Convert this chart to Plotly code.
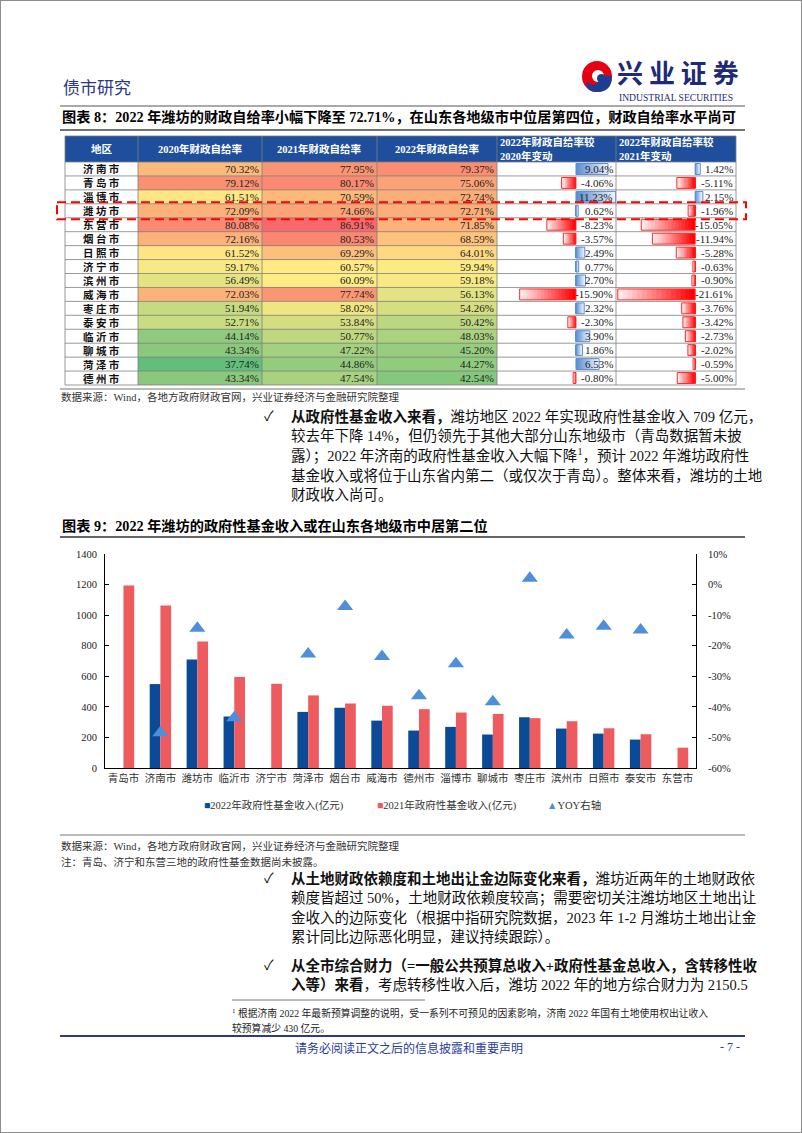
import numpy as np
import plotly.graph_objects as go

W, H = 802, 1133

# ---------------- 图表8 table data ----------------
table_cities = ["济南市", "青岛市", "淄博市", "潍坊市", "东营市", "烟台市", "日照市", "济宁市",
                "滨州市", "威海市", "枣庄市", "泰安市", "临沂市", "聊城市", "菏泽市", "德州市"]
r2020 = [70.32, 79.12, 61.51, 72.09, 80.08, 72.16, 61.52, 59.17, 56.49, 72.03, 51.94, 52.71, 44.14, 43.34, 37.74, 43.34]
r2021 = [77.95, 80.17, 70.59, 74.66, 86.91, 80.53, 69.29, 60.57, 60.09, 77.74, 58.02, 53.84, 50.77, 47.22, 44.86, 47.54]
r2022 = [79.37, 75.06, 72.74, 72.71, 71.85, 68.59, 64.01, 59.94, 59.18, 56.13, 54.26, 50.42, 48.03, 45.20, 44.27, 42.54]
chg_vs2020 = [9.04, -4.06, 11.23, 0.62, -8.23, -3.57, 2.49, 0.77, 2.70, -15.90, 2.32, -2.30, 3.90, 1.86, 6.53, -0.80]
chg_vs2021 = [1.42, -5.11, 2.15, -1.96, -15.05, -11.94, -5.28, -0.63, -0.90, -21.61, -3.76, -3.42, -2.73, -2.02, -0.59, -5.00]
table_headers = ["地区", "2020年财政自给率", "2021年财政自给率", "2022年财政自给率",
                 "2022年财政自给率较<br>2020年变动", "2022年财政自给率较<br>2021年变动"]

# ---------------- 图表9 chart data ----------------
chart_cities = ["青岛市", "济南市", "潍坊市", "临沂市", "济宁市", "菏泽市", "烟台市", "威海市",
                "德州市", "淄博市", "聊城市", "枣庄市", "滨州市", "日照市", "泰安市", "东营市"]
fund_2022 = [None, 549, 709, 337, None, 367, 394, 310, 245, 269, 219, 332, 258, 225, 186, None]
fund_2021 = [1194, 1063, 827, 595, 551, 475, 422, 407, 385, 363, 354, 326, 306, 260, 221, 133]
yoy_pct = [None, -48.5, -14.3, -43.6, None, -22.7, -7.2, -23.5, -36.4, -25.9, -38.3, 2.1, -16.5, -13.6, -14.9, None]
left_ticks = [0, 200, 400, 600, 800, 1000, 1200, 1400]
right_tickvals = [0.1, 0.0, -0.1, -0.2, -0.3, -0.4, -0.5, -0.6]
right_ticktext = ["10%", "0%", "-10%", "-20%", "-30%", "-40%", "-50%", "-60%"]

# ---------------- styles / layout constants ----------------
SERIF = "Liberation Serif, Noto Sans CJK SC"
CJK = "Noto Sans CJK SC"
NAVY = "#2B3788"
TB_X = [65, 138, 262, 377, 497, 616, 736]
TB_TOP, HDR_B, TB_BOT = 136, 162, 385
RH = (TB_BOT - HDR_B) / len(table_cities)
row_c = [HDR_B + (i + 0.5) * RH for i in range(len(table_cities))]

fig = go.Figure()

# heat-map coloured cells (Excel 3-colour scale, shared across 3 columns)
z = np.array([r2020, r2021, r2022]).T
zmin, zmax, zmed = float(z.min()), float(z.max()), float(np.median(z))
mid = (zmed - zmin) / (zmax - zmin)
fig.add_trace(go.Heatmap(
    z=z, x=TB_X[1:5], y=[HDR_B + i * RH for i in range(len(table_cities) + 1)],
    colorscale=[[0, "#63BE7B"], [mid, "#FFEB84"], [1, "#F8696B"]],
    zmin=zmin, zmax=zmax, showscale=False, hoverinfo="skip", xaxis="x", yaxis="y"))


def mix(a, b, t):
    return "rgb(%d,%d,%d)" % tuple(round(a[i] + (b[i] - a[i]) * t) for i in range(3))


POS_A, POS_B = (90, 142, 210), (236, 242, 251)
NEG_A, NEG_B = (255, 0, 0), (255, 236, 236)
NSEG = 16
for xa, vals in (("x2", chg_vs2020), ("x3", chg_vs2021)):
    for k in range(NSEG):
        t = k / (NSEG - 1)
        ext = 1.0 if k == NSEG - 1 else 1.6   # overlap segments to avoid hairline gaps
        cols = [mix(POS_A, POS_B, t) if v >= 0 else mix(NEG_A, NEG_B, t) for v in vals]
        fig.add_trace(go.Bar(orientation="h", y=row_c, x=[v * ext / NSEG for v in vals],
                             base=[v * k / NSEG for v in vals], width=RH - 3,
                             marker=dict(color=cols, line=dict(width=0)),
                             xaxis=xa, yaxis="y", hoverinfo="skip", showlegend=False))
    fig.add_trace(go.Bar(orientation="h", y=row_c, x=vals, base=[0] * len(vals), width=RH - 3,
                         marker=dict(color="rgba(0,0,0,0)",
                                     line=dict(width=1, color=["#5A8ED2" if v >= 0 else "#FF2A2A" for v in vals])),
                         xaxis=xa, yaxis="y", hoverinfo="skip", showlegend=False))

# ---------------- chart 9 traces ----------------
fig.add_trace(go.Bar(x=chart_cities, y=fund_2022, offset=-0.29, width=0.29, marker_color="#0B4A97",
                     name="2022年政府性基金收入(亿元)", xaxis="x4", yaxis="y4", showlegend=False))
fig.add_trace(go.Bar(x=chart_cities, y=fund_2021, offset=0.0, width=0.29, marker_color="#EE5B5E",
                     name="2021年政府性基金收入(亿元)", xaxis="x4", yaxis="y4", showlegend=False))
fig.add_trace(go.Scatter(x=chart_cities, y=[None if v is None else v / 100 for v in yoy_pct],
                         mode="markers", marker=dict(symbol="triangle-up", size=14, color="#4E8FDA"),
                         name="YOY右轴", xaxis="x4", yaxis="y5", showlegend=False))

# ---------------- text ----------------
ann = []


def T(x, y, text, size=14.5, color="#111", xanchor="left", family=SERIF, align="left"):
    ann.append(dict(x=x, y=y, xref="x", yref="y", text=text, showarrow=False, xanchor=xanchor,
                    yanchor="middle", align=align, borderpad=0,
                    font=dict(size=size, color=color, family=family)))


# header
T(62, 86, "债市研究", 17, NAVY, family=CJK)
T(616, 71, "<b>兴 业 证 券</b>", 26, "#1E2A78", family=CJK)
T(618, 97, "INDUSTRIAL SECURITIES", 9.6, "#1E2A78")
T(61, 117, "<b>图表 8：2022 年潍坊的财政自给率小幅下降至 72.71%，在山东各地级市中位居第四位，财政自给率水平尚可</b>", 14.2, "#000")

# table header
for c in range(4):
    T((TB_X[c] + TB_X[c + 1]) / 2, (TB_TOP + HDR_B) / 2, "<b>%s</b>" % table_headers[c], 10.5, "#FFFFFF", "center")
for c in (4, 5):
    T(TB_X[c] + 2, (TB_TOP + HDR_B) / 2, "<b>%s</b>" % table_headers[c], 10.5, "#FFFFFF", "left")
# table body
for i, name in enumerate(table_cities):
    T((TB_X[0] + TB_X[1]) / 2, row_c[i], "<b>%s</b>" % " ".join(name), 10.5, "#111", "center", family=CJK)
    for c, arr in enumerate((r2020, r2021, r2022, chg_vs2020, chg_vs2021)):
        T(TB_X[c + 2] - 2, row_c[i], "%.2f%%" % arr[i], 11, "#222", "right")

T(60, 397, "数据来源：Wind，各地方政府财政官网，兴业证券经济与金融研究院整理", 10.5, "#333")

BX, CK = 290, 263
LS = 19.8
para1 = ["<b>从政府性基金收入来看，</b>潍坊地区 2022 年实现政府性基金收入 709 亿元，",
         "较去年下降 14%，但仍领先于其他大部分山东地级市（青岛数据暂未披",
         "露）；2022 年济南的政府性基金收入大幅下降<sup>1</sup>，预计 2022 年潍坊政府性",
         "基金收入或将位于山东省内第二（或仅次于青岛）。整体来看，潍坊的土地",
         "财政收入尚可。"]
y0 = 416
T(CK, y0, "✓", 14, "#111")
for j, s in enumerate(para1):
    T(BX, y0 + j * LS, s, 14.5, "#111")

T(61, 526, "<b>图表 9：2022 年潍坊的政府性基金收入或在山东各地级市中居第二位</b>", 14.2, "#000")

# legend (custom)
T(203, 805, "<span style='color:#0B4A97'>■</span>2022年政府性基金收入(亿元)", 10.5, "#333")
T(376, 805, "<span style='color:#EE5B5E'>■</span>2021年政府性基金收入(亿元)", 10.5, "#333")
T(546, 805, "<span style='color:#4E8FDA'>▲</span>YOY右轴", 10.5, "#333")

T(60, 846, "数据来源：Wind，各地方政府财政官网，兴业证券经济与金融研究院整理", 10.5, "#333")
T(60, 862, "注：青岛、济宁和东营三地的政府性基金数据尚未披露。", 10.5, "#333")

para2 = ["<b>从土地财政依赖度和土地出让金边际变化来看，</b>潍坊近两年的土地财政依",
         "赖度皆超过 50%，土地财政依赖度较高；需要密切关注潍坊地区土地出让",
         "金收入的边际变化（根据中指研究院数据，2023 年 1-2 月潍坊土地出让金",
         "累计同比边际恶化明显，建议持续跟踪）。"]
y1 = 878
T(CK, y1, "✓", 14, "#111")
for j, s in enumerate(para2):
    T(BX, y1 + j * LS, s, 14.5, "#111")
para3 = ["<b>从全市综合财力（=一般公共预算总收入+政府性基金总收入，含转移性收</b>",
         "<b>入等）来看</b>，考虑转移性收入后，潍坊 2022 年的地方综合财力为 2150.5"]
y2 = 965
T(CK, y2, "✓", 14, "#111")
for j, s in enumerate(para3):
    T(BX, y2 + j * LS, s, 14.5, "#111")

T(231, 1013, "<sup>1</sup> 根据济南 2022 年最新预算调整的说明，受一系列不可预见的因素影响，济南 2022 年国有土地使用权出让收入", 9.8, "#222")
T(231, 1028, "较预算减少 430 亿元。", 9.8, "#222")
T(409, 1047, "请务必阅读正文之后的信息披露和重要声明", 12, "#2A3D9A", "center", family=CJK)
T(741, 1047, "- 7 -", 12, "#2A3D9A", "right")

# ---------------- shapes ----------------
shp = []


def L(x0, y0_, x1, y1_, color="#666", width=1, dash="solid", layer="above"):
    shp.append(dict(type="line", xref="x", yref="y", x0=x0, y0=y0_, x1=x1, y1=y1_, layer=layer,
                    line=dict(color=color, width=width, dash=dash)))


# page frame
shp.append(dict(type="rect", xref="paper", yref="paper", x0=0, y0=0, x1=1, y1=1,
                line=dict(color="#8C8C8C", width=2), layer="above"))
# logo
shp.append(dict(type="circle", xref="x", yref="y", x0=582, y0=61, x1=612, y1=92,
                fillcolor="#E60012", line=dict(width=0), layer="above"))
shp.append(dict(type="path", xref="x", yref="y",
                path="M 597 76 L 612 76 Q 612 92 597 92 Q 586 92 586 82 Q 592 86 597 84 Z",
                fillcolor="#1F3C93", line=dict(width=0), layer="above"))
shp.append(dict(type="circle", xref="x", yref="y", x0=592, y0=70, x1=604, y1=82,
                fillcolor="#FFFFFF", line=dict(width=0), layer="above"))
shp.append(dict(type="circle", xref="x", yref="y", x0=597, y0=74, x1=606, y1=83,
                fillcolor="#1F3C93", line=dict(width=0), layer="above"))

L(60, 106, 745, 106, "#555", 1)
L(60, 130, 745, 130, "#444", 1.5)
# table header background
shp.append(dict(type="rect", xref="x", yref="y", x0=TB_X[0], y0=TB_TOP, x1=TB_X[-1], y1=HDR_B,
                fillcolor="#1F4E9C", line=dict(width=0), layer="below"))
for i in range(len(table_cities) + 1):
    yy = HDR_B + i * RH
    L(TB_X[0], yy, TB_X[-1], yy, "#7F7F7F", 0.8)
L(TB_X[0], TB_TOP, TB_X[-1], TB_TOP, "#7F7F7F", 0.8)
for xx in TB_X:
    L(xx, TB_TOP, xx, TB_BOT, "#7F7F7F", 0.8)
# highlight for 潍坊
wf = table_cities.index("潍坊市")
shp.append(dict(type="rect", xref="x", yref="y", x0=57, x1=746,
                y0=HDR_B + wf * RH - 1.5, y1=HDR_B + (wf + 1) * RH + 1.5,
                line=dict(color="#FF0000", width=2, dash="9px,5px"), layer="above"))
L(60, 389, 745, 389, "#777", 1)
L(60, 537, 745, 537, "#666", 2.2)
L(60, 835, 745, 835, "#777", 1)
L(232, 1000, 425, 1000, "#555", 0.8)
L(60, 1036, 745, 1036, "#2E3A87", 2)

# ---------------- layout ----------------
ytop, ybot = 554, 768
tick_font = dict(family="Liberation Serif", size=10.5, color="#222")
fig.update_layout(
    width=W, height=H, margin=dict(l=0, r=0, t=0, b=0), template="none",
    paper_bgcolor="white", plot_bgcolor="rgba(0,0,0,0)", barmode="overlay", showlegend=False,
    xaxis=dict(domain=[0, 1], range=[0, W], visible=False, fixedrange=True),
    yaxis=dict(domain=[0, 1], range=[H, 0], visible=False, fixedrange=True),
    xaxis2=dict(domain=[TB_X[4] / W, TB_X[5] / W], range=[-22.3, 11.3], visible=False, anchor="y"),
    xaxis3=dict(domain=[TB_X[5] / W, TB_X[6] / W], range=[-22.1, 11.4], visible=False, anchor="y"),
    xaxis4=dict(domain=[105 / W, 696 / W], anchor="y4", type="category", range=[-0.5, 15.5],
                showline=True, linecolor="#000", linewidth=1, showgrid=False, ticks="",
                tickfont=dict(family=CJK, size=10.5, color="#333")),
    yaxis4=dict(domain=[1 - ybot / H, 1 - ytop / H], anchor="x4", range=[0, 1400], tickvals=left_ticks,
                showline=True, linecolor="#000", linewidth=1, showgrid=False, zeroline=False,
                ticks="inside", ticklen=4, tickcolor="#000", tickfont=tick_font, ticklabelstandoff=5),
    yaxis5=dict(overlaying="y4", side="right", anchor="x4", range=[-0.6, 0.1],
                tickvals=right_tickvals, ticktext=right_ticktext,
                showline=True, linecolor="#000", linewidth=1, showgrid=False, zeroline=False,
                ticks="inside", ticklen=4, tickcolor="#000", tickfont=tick_font, ticklabelstandoff=9),
    annotations=ann, shapes=shp,
)

fig.write_html("out.html", config={"displayModeBar": False},
               post_script="document.body.style.margin='0';document.body.style.overflow='hidden';")
